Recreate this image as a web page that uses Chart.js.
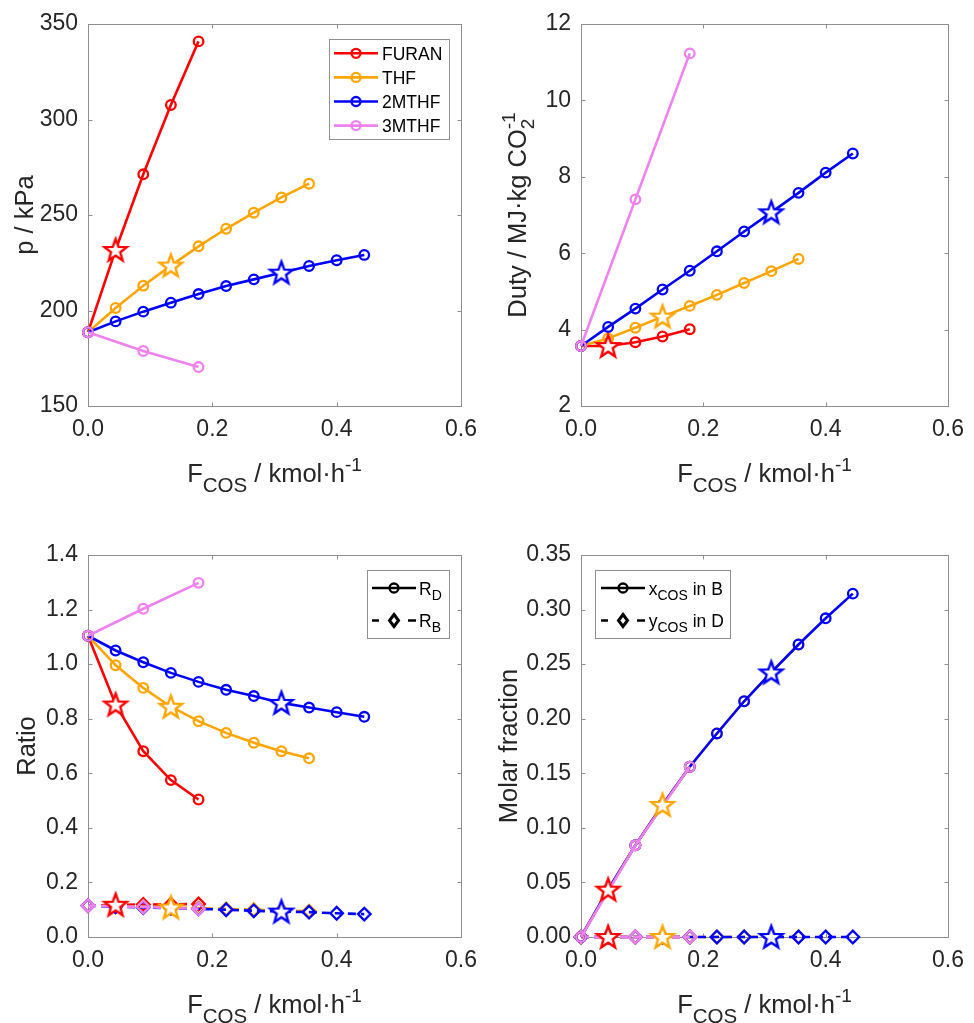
<!DOCTYPE html>
<html>
<head>
<meta charset="utf-8">
<script src="https://cdn.jsdelivr.net/npm/chart.js@4.4.1/dist/chart.umd.min.js"></script>
<style>
html,body{margin:0;padding:0;background:#fff;}
body{width:974px;height:1023px;position:relative;overflow:hidden;}
canvas{position:absolute;}
</style>
</head>
<body>
<canvas id="c1" width="487" height="500" style="left:0;top:0"></canvas>
<canvas id="c2" width="487" height="500" style="left:487px;top:0"></canvas>
<canvas id="c3" width="487" height="523" style="left:0;top:500px"></canvas>
<canvas id="c4" width="487" height="523" style="left:487px;top:500px"></canvas>
<script>
// ---------------- DATA ----------------
const solvents = ['FURAN', 'THF', '2MTHF', '3MTHF'];
const xFuran = [0, 0.0444, 0.0889, 0.1333, 0.1778];
const xThf   = [0, 0.0444, 0.0889, 0.1333, 0.1778, 0.2222, 0.2667, 0.3111, 0.3556];
const x2mthf = [0, 0.0444, 0.0889, 0.1333, 0.1778, 0.2222, 0.2667, 0.3111, 0.3556, 0.4000, 0.4444];
const x3mthf = [0, 0.0889, 0.1778];
// index of the highlighted (star) point in each series; -1 = none
const starFuran = 1, starThf = 3, star2mthf = 7, star3mthf = -1;

const pFuran = [188.6, 231.7, 271.3, 307.6, 340.9];
const pThf   = [188.6, 201.3, 213.0, 223.5, 233.6, 242.8, 251.2, 259.2, 266.4];
const p2mthf = [188.6, 194.3, 199.4, 204.1, 208.6, 212.8, 216.3, 219.8, 223.3, 226.3, 229.1];
const p3mthf = [188.6, 178.8, 170.4];

const dutyFuran = [3.57, 3.57, 3.67, 3.82, 4.01];
const dutyThf   = [3.57, 3.77, 4.05, 4.34, 4.62, 4.91, 5.22, 5.53, 5.85];
const duty2mthf = [3.57, 4.07, 4.55, 5.05, 5.54, 6.05, 6.57, 7.07, 7.58, 8.11, 8.61];
const duty3mthf = [3.57, 7.41, 11.23];

const rdFuran = [1.104, 0.852, 0.681, 0.575, 0.504];
const rdThf   = [1.104, 0.996, 0.913, 0.844, 0.791, 0.748, 0.712, 0.681, 0.655];
const rd2mthf = [1.104, 1.050, 1.007, 0.968, 0.935, 0.906, 0.883, 0.858, 0.841, 0.824, 0.807];
const rd3mthf = [1.104, 1.203, 1.298];

const rbFuran = [0.115, 0.118, 0.119, 0.120, 0.121];
const rbThf   = [0.115, 0.113, 0.111, 0.108, 0.106, 0.103, 0.100, 0.098, 0.095];
const rb2mthf = [0.115, 0.111, 0.108, 0.105, 0.103, 0.100, 0.096, 0.093, 0.091, 0.087, 0.084];
const rb3mthf = [0.115, 0.110, 0.103];

const xbFuran = [0, 0.0434, 0.084, 0.121, 0.156];
const xbThf   = [0, 0.0434, 0.084, 0.121, 0.156, 0.1865, 0.216, 0.2424, 0.268];
const xb2mthf = [0, 0.0434, 0.084, 0.121, 0.156, 0.1865, 0.216, 0.2424, 0.268, 0.292, 0.3146];
const xb3mthf = [0, 0.084, 0.156];

const ydFuran = [0, 0, 0, 0, 0];
const ydThf   = [0, 0, 0, 0, 0, 0, 0, 0, 0];
const yd2mthf = [0, 0, 0, 0, 0, 0, 0, 0, 0, 0, 0];
const yd3mthf = [0, 0, 0];

const xTicks = [0, 0.2, 0.4, 0.6];
const pTicks = [150, 200, 250, 300, 350];
const dutyTicks = [2, 4, 6, 8, 10, 12];
const ratioTicks = [0, 0.2, 0.4, 0.6, 0.8, 1.0, 1.2, 1.4];
const fracTicks = [0, 0.05, 0.10, 0.15, 0.20, 0.25, 0.30, 0.35];

// ---------------- STYLE ----------------
const FONT = '"Liberation Sans", Arial, Helvetica, sans-serif';
const TXT = '#262626';
const AXIS = '#8f8f8f';
const COLORS = {FURAN:'#ff0000', THF:'#ffa500', '2MTHF':'#0000ff', '3MTHF':'#ee82ee'};
const ORDER = {FURAN:4, THF:3, '2MTHF':2, '3MTHF':1};
const LW = 2.6;

const starCache = {};
function starImg(color) {
  if (starCache[color]) return starCache[color];
  const c = document.createElement('canvas'); c.width = 32; c.height = 32;
  const g = c.getContext('2d');
  const R = 11.8, r = 4.9, cx = 16, cy = 16.8;
  g.beginPath();
  for (let k = 0; k < 10; k++) {
    const a = -Math.PI / 2 + k * Math.PI / 5;
    const rad = k % 2 === 0 ? R : r;
    const px = cx + rad * Math.cos(a), py = cy + rad * Math.sin(a);
    if (k === 0) g.moveTo(px, py); else g.lineTo(px, py);
  }
  g.closePath();
  g.fillStyle = '#fff'; g.fill();
  g.strokeStyle = color; g.lineWidth = 2.4; g.lineJoin = 'miter'; g.stroke();
  starCache[color] = c;
  return c;
}

function series(name, xs, ys, starIdx, dashed) {
  const color = COLORS[name];
  const rad = dashed ? 6.3 : 4.8;
  return {
    label: name,
    data: xs.map((x, i) => ({x: x, y: ys[i]})),
    showLine: true,
    borderColor: color,
    backgroundColor: color,
    borderWidth: LW,
    borderDash: dashed ? [8, 5] : [],
    pointStyle: dashed ? 'rectRot' : 'circle',
    pointRadius: (ctx) => ctx.dataIndex === starIdx ? 0 : rad,
    pointHoverRadius: (ctx) => ctx.dataIndex === starIdx ? 0 : rad,
    pointBorderColor: color,
    pointBackgroundColor: 'rgba(0,0,0,0)',
    pointBorderWidth: 2.3,
    tension: 0,
    clip: false,
    order: ORDER[name] + (dashed ? 4 : 0)
  };
}
function starSet(name, xs, ys, idx) {
  const color = COLORS[name];
  return {
    label: name + ' star',
    data: [{x: xs[idx], y: ys[idx]}],
    showLine: false,
    pointStyle: starImg(color),
    pointRadius: 12,
    borderColor: color,
    backgroundColor: '#fff',
    clip: false,
    order: 0
  };
}
function allSets(groups, dashed) {
  const out = [];
  groups.forEach(g => out.push(series(g[0], g[1], g[2], g[3], dashed)));
  groups.forEach(g => { if (g[3] >= 0) out.push(starSet(g[0], g[1], g[2], g[3])); });
  return out;
}

// rich text with sub/superscripts
function drawRich(ctx, segs, x, y, align) {
  let cur = 0, pending = null;
  const pos = [];
  segs.forEach(s => {
    ctx.font = s.size + 'px ' + FONT;
    const w = ctx.measureText(s.t).width;
    if (pending) { pos.push(pending.x); cur = pending.x + Math.max(pending.w, w); pending = null; }
    else { pos.push(cur); if (s.stack) pending = {x: cur, w: w}; else cur += w; }
  });
  const start = align === 'center' ? x - cur / 2 : x;
  ctx.textBaseline = 'alphabetic';
  ctx.textAlign = 'left';
  segs.forEach((s, i) => {
    ctx.font = s.size + 'px ' + FONT;
    ctx.fillText(s.t, start + pos[i], y + (s.dy || 0));
  });
}

const xTitleSegs = [
  {t: 'F', size: 25.5},
  {t: 'COS', size: 20.5, dy: 10},
  {t: ' / kmol\u00B7h', size: 25.5},
  {t: '-1', size: 19, dy: -11}
];

function drawLegend(ctx, L) {
  ctx.save();
  ctx.fillStyle = '#fff';
  ctx.fillRect(L.x, L.y, L.w, L.h);
  ctx.strokeStyle = AXIS; ctx.lineWidth = 1;
  ctx.strokeRect(Math.round(L.x) + 0.5, Math.round(L.y) + 0.5, L.w, L.h);
  L.rows.forEach(r => {
    ctx.strokeStyle = r.color; ctx.lineWidth = LW;
    ctx.beginPath();
    if (r.dashed) {
      ctx.moveTo(L.lx0, r.y); ctx.lineTo(L.lx0 + 7, r.y);
      ctx.moveTo(L.lx1 - 8, r.y); ctx.lineTo(L.lx1, r.y);
    } else {
      ctx.moveTo(L.lx0, r.y); ctx.lineTo(L.lx1, r.y);
    }
    ctx.stroke();
    const m = (L.lx0 + L.lx1) / 2;
    ctx.lineWidth = 2.3;
    ctx.beginPath();
    if (r.marker === 'diamond') {
      const d = 6;
      ctx.moveTo(m, r.y - d); ctx.lineTo(m + d * 0.75, r.y); ctx.lineTo(m, r.y + d); ctx.lineTo(m - d * 0.75, r.y); ctx.closePath();
      ctx.fillStyle = '#fff'; ctx.fill();
      ctx.lineWidth = 3;
    } else {
      ctx.arc(m, r.y, 4.5, 0, Math.PI * 2);
    }
    ctx.stroke();
    ctx.fillStyle = '#000';
    drawRich(ctx, r.segs, L.tx, r.y + 6.5, 'left');
  });
  ctx.restore();
}

function decor(cfg) {
  return {
    id: 'decor',
    beforeDatasetsDraw(chart) {
      const ctx = chart.ctx, a = chart.chartArea, xs = chart.scales.x, ys = chart.scales.y;
      ctx.save();
      ctx.strokeStyle = AXIS; ctx.lineWidth = 1;
      const L = Math.round(a.left) + 0.5, R = Math.round(a.right) + 0.5, T = Math.round(a.top) + 0.5, B = Math.round(a.bottom) + 0.5;
      ctx.strokeRect(L, T, R - L, B - T);
      const tl = 4;
      ctx.beginPath();
      xs.ticks.forEach(t => {
        const p = Math.round(xs.getPixelForValue(t.value)) + 0.5;
        ctx.moveTo(p, B); ctx.lineTo(p, B - tl);
        ctx.moveTo(p, T); ctx.lineTo(p, T + tl);
      });
      ys.ticks.forEach(t => {
        const p = Math.round(ys.getPixelForValue(t.value)) + 0.5;
        ctx.moveTo(L, p); ctx.lineTo(L + tl, p);
        ctx.moveTo(R, p); ctx.lineTo(R - tl, p);
      });
      ctx.stroke();
      ctx.restore();
    },
    afterDraw(chart) {
      const ctx = chart.ctx, a = chart.chartArea;
      ctx.save();
      ctx.fillStyle = TXT;
      drawRich(ctx, xTitleSegs, (a.left + a.right) / 2, a.bottom + 75.5, 'center');
      ctx.save();
      ctx.translate(cfg.yTitleX, (a.top + a.bottom) / 2);
      ctx.rotate(-Math.PI / 2);
      drawRich(ctx, cfg.yTitle, 0, 0, 'center');
      ctx.restore();
      if (cfg.legend) drawLegend(ctx, cfg.legend);
      ctx.restore();
    }
  };
}

function makeChart(id, datasets, yOpt, layout, cfg) {
  new Chart(document.getElementById(id), {
    type: 'scatter',
    data: {datasets: datasets},
    options: {
      responsive: false,
      animation: false,
      devicePixelRatio: 1,
      events: [],
      layout: {padding: {left: 0, right: layout.padR, top: layout.padT, bottom: 0}},
      plugins: {legend: {display: false}, tooltip: {enabled: false}},
      scales: {
        x: {
          type: 'linear', min: 0, max: 0.6,
          afterBuildTicks: (s) => { s.ticks = xTicks.map(v => ({value: v})); },
          ticks: {padding: 10, color: TXT, font: {family: FONT, size: 23}, maxRotation: 0, autoSkip: false,
                  callback: (v) => Number(v).toFixed(1)},
          grid: {display: false, drawTicks: false},
          border: {display: false},
          afterFit: (s) => { s.height = layout.xH; }
        },
        y: {
          type: 'linear', min: yOpt.min, max: yOpt.max,
          afterBuildTicks: (s) => { s.ticks = yOpt.ticks.map(v => ({value: v})); },
          ticks: {padding: 10, color: TXT, font: {family: FONT, size: 23}, autoSkip: false,
                  callback: (v) => Number(v).toFixed(yOpt.dec)},
          grid: {display: false, drawTicks: false},
          border: {display: false},
          afterFit: (s) => { s.width = layout.yW; }
        }
      }
    },
    plugins: [decor(cfg)]
  });
}

// ---------- Chart 1: pressure ----------
makeChart('c1',
  allSets([['FURAN', xFuran, pFuran, starFuran], ['THF', xThf, pThf, starThf],
           ['2MTHF', x2mthf, p2mthf, star2mthf], ['3MTHF', x3mthf, p3mthf, star3mthf]], false),
  {min: 150, max: 350, ticks: pTicks, dec: 0},
  {padR: 24, padT: 24, xH: 94, yW: 88},
  {
    yTitleX: 33,
    yTitle: [{t: 'p / kPa', size: 25.5}],
    legend: {x: 329, y: 39, w: 120, h: 100, lx0: 334, lx1: 378, tx: 382,
      rows: solvents.map((n, i) => ({y: 53.3 + i * 24.1, color: COLORS[n], marker: 'circle', segs: [{t: n, size: 17.5}]}))}
  });

// ---------- Chart 2: duty ----------
makeChart('c2',
  allSets([['FURAN', xFuran, dutyFuran, starFuran], ['THF', xThf, dutyThf, starThf],
           ['2MTHF', x2mthf, duty2mthf, star2mthf], ['3MTHF', x3mthf, duty3mthf, star3mthf]], false),
  {min: 2, max: 12, ticks: dutyTicks, dec: 0},
  {padR: 17, padT: 24, xH: 94, yW: 94},
  {
    yTitleX: 39,
    yTitle: [{t: 'Duty / MJ\u00B7kg CO', size: 25.5}, {t: '-1', size: 19, dy: -11, stack: true}, {t: '2', size: 19, dy: 8}]
  });

// ---------- Chart 3: ratio ----------
makeChart('c3',
  allSets([['FURAN', xFuran, rdFuran, starFuran], ['THF', xThf, rdThf, starThf],
           ['2MTHF', x2mthf, rd2mthf, star2mthf], ['3MTHF', x3mthf, rd3mthf, star3mthf]], false)
  .concat(allSets([['FURAN', xFuran, rbFuran, starFuran], ['THF', xThf, rbThf, starThf],
           ['2MTHF', x2mthf, rb2mthf, star2mthf], ['3MTHF', x3mthf, rb3mthf, star3mthf]], true)),
  {min: 0, max: 1.4, ticks: ratioTicks, dec: 1},
  {padR: 24, padT: 55, xH: 86, yW: 88},
  {
    yTitleX: 35,
    yTitle: [{t: 'Ratio', size: 25.5}],
    legend: {x: 367, y: 70, w: 82, h: 68, lx0: 372, lx1: 416, tx: 419,
      rows: [
        {y: 88, color: '#000', marker: 'circle', segs: [{t: 'R', size: 17.5}, {t: 'D', size: 14, dy: 5}]},
        {y: 120.5, color: '#000', marker: 'diamond', dashed: true, segs: [{t: 'R', size: 17.5}, {t: 'B', size: 14, dy: 5}]}
      ]}
  });

// ---------- Chart 4: molar fraction ----------
makeChart('c4',
  allSets([['FURAN', xFuran, xbFuran, starFuran], ['THF', xThf, xbThf, starThf],
           ['2MTHF', x2mthf, xb2mthf, star2mthf], ['3MTHF', x3mthf, xb3mthf, star3mthf]], false)
  .concat(allSets([['FURAN', xFuran, ydFuran, starFuran], ['THF', xThf, ydThf, starThf],
           ['2MTHF', x2mthf, yd2mthf, star2mthf], ['3MTHF', x3mthf, yd3mthf, star3mthf]], true)),
  {min: 0, max: 0.35, ticks: fracTicks, dec: 2},
  {padR: 17, padT: 55, xH: 86, yW: 94},
  {
    yTitleX: 30,
    yTitle: [{t: 'Molar fraction', size: 25.5}],
    legend: {x: 108, y: 70, w: 135, h: 68, lx0: 114, lx1: 158, tx: 161.7,
      rows: [
        {y: 88, color: '#000', marker: 'circle', segs: [{t: 'x', size: 17.5}, {t: 'COS', size: 14, dy: 5}, {t: ' in B', size: 17.5}]},
        {y: 120.5, color: '#000', marker: 'diamond', dashed: true, segs: [{t: 'y', size: 17.5}, {t: 'COS', size: 14, dy: 5}, {t: ' in D', size: 17.5}]}
      ]}
  });
</script>
</body>
</html>
